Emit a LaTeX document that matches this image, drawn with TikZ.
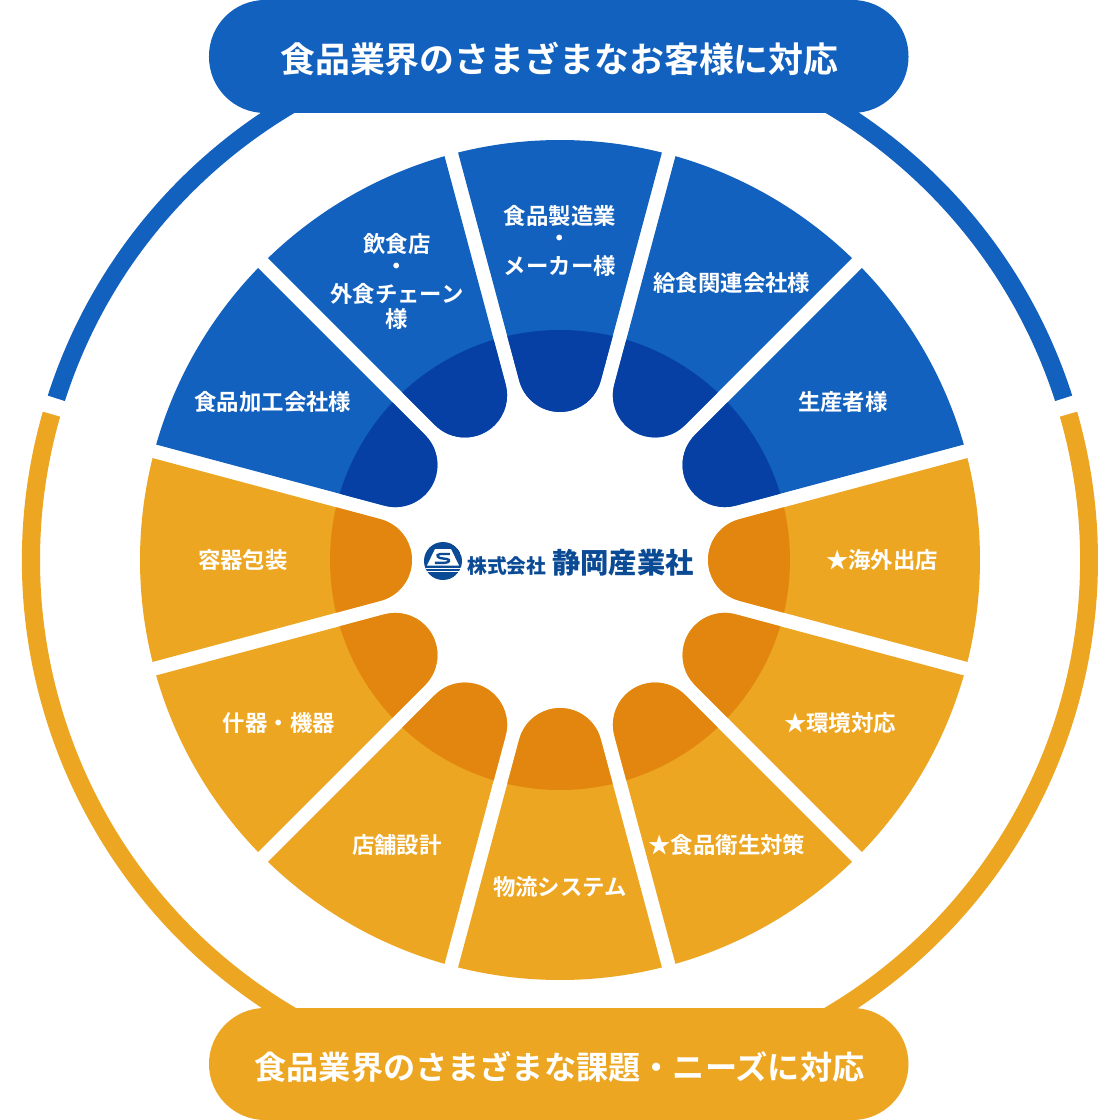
\documentclass[tikz,border=0pt]{standalone}
\usepackage{fontspec}
\setmainfont{Noto Sans CJK JP}[BoldFont={Noto Sans CJK JP Bold}]
\newfontfamily\jpb{Noto Sans CJK JP Bold}
\newfontfamily\jpk{Noto Sans CJK JP Black}
\definecolor{bluemain}{HTML}{1261BE}
\definecolor{bluedark}{HTML}{0740A5}
\definecolor{orgmain}{HTML}{EDA621}
\definecolor{orgdark}{HTML}{E38610}
\definecolor{logoblue}{HTML}{0B4A94}
\tikzset{
  every node/.style={inner sep=0pt,outer sep=0pt},
  lbl/.style={text=white,font=\jpb\fontsize{22.4}{25}\selectfont,align=center},
  ttl/.style={text=white,font=\jpb\fontsize{34.9}{40}\selectfont},
  ttlb/.style={text=white,font=\jpb\fontsize{32.2}{40}\selectfont},
  pill/.style={rounded corners=56pt},
}
% wedge: #1 rotation, #2 main colour, #3 dark colour
\newcommand{\wedgeshape}{(179.3,-40.76) -- (-14.045:420) arc[start angle=-14.045,end angle=14.045,radius=420] -- (179.3,40.76) arc[start angle=105,end angle=255,radius=42.2] -- cycle}
\newcommand{\wedgedraw}[3]{%
  \begin{scope}[rotate=#1]
    \fill[#2] \wedgeshape;
    \begin{scope}
      \clip (0,0) circle[radius=230];
      \fill[#3] \wedgeshape;
    \end{scope}
  \end{scope}}
\begin{document}
\begin{tikzpicture}[x=1pt,y=1pt]
\useasboundingbox (-560,-560) rectangle (560,560);
\fill[white] (-560,-560) rectangle (560,560);
% outer rings
\fill[bluemain] (17.8:538) arc[start angle=17.8,end angle=162.2,radius=538] -- (162.2:520) arc[start angle=162.2,end angle=17.8,radius=520] -- cycle;
\fill[orgmain] (164:538) arc[start angle=164,end angle=376,radius=538] -- (376:520) arc[start angle=376,end angle=164,radius=520] -- cycle;
% wedges
\foreach \a in {30,60,90,120,150}{\wedgedraw{\a}{bluemain}{bluedark}}
\foreach \a in {0,180,210,240,270,300,330}{\wedgedraw{\a}{orgmain}{orgdark}}
% pills
\fill[bluemain,pill] (-351,447) rectangle (348.5,560);
\fill[orgmain,pill] (-351,-560) rectangle (348.5,-448);
\node[ttl] (t1) at (-0.5,501) {食品業界のさまざまなお客様に対応};
\node[ttlb] (t2) at (-0.5,-507) {食品業界のさまざまな課題・ニーズに対応};
% labels
\node[lbl] (a1) at (0,344.5) {食品製造業};
\node[lbl] (a1b) at (0,319) {・};
\node[lbl] (a1c) at (0,294) {メーカー様};
\node[lbl] (a2) at (-163,316) {飲食店};
\node[lbl] (a2b) at (-163,291) {・};
\node[lbl] (a2c) at (-163,266) {外食チェーン};
\node[lbl] (a2d) at (-163,241) {様};
\node[lbl] (a3) at (172,277) {給食関連会社様};
\node[lbl] (a4) at (283,158) {生産者様};
\node[lbl] (a5) at (-287,158) {食品加工会社様};
\node[lbl] (a6) at (-317,0) {容器包装};
\node[lbl] (a7) at (322,0) {★海外出店};
\node[lbl] (a8) at (-281,-163) {什器・機器};
\node[lbl] (a9) at (280,-163) {★環境対応};
\node[lbl] (a10) at (-163,-285) {店舗設計};
\node[lbl] (a11) at (167,-285) {★食品衛生対策};
\node[lbl] (a12) at (0,-327) {物流システム};
% logo
\begin{scope}
\clip (-117,-1) circle[radius=19];
\fill[logoblue] (-117,-1) circle[radius=19];
\fill[white] (-125,11) -- (-109,11) -- (-101,-5.5) -- (-133,-5.5) -- cycle;
\fill[white] (-137,-8) rectangle (-97,-9.2);
\fill[white] (-137,-11) rectangle (-97,-12);
\end{scope}
\draw[logoblue,line width=2.4pt] (-110,6) -- (-120,6) .. controls (-125,5) and (-122,1.5) .. (-117,1.5) -- (-113,1) .. controls (-109,0) and (-111,-2.5) .. (-115,-2.8) -- (-125,-2.8);
\node[text=logoblue,font=\jpk\fontsize{19.7}{20}\selectfont] (lg1) at (-53,-5.5) {株式会社};
\node[text=logoblue,font=\jpk\fontsize{28.3}{28}\selectfont] (lg2) at (63,-2.5) {静岡産業社};
\end{tikzpicture}
\end{document}
